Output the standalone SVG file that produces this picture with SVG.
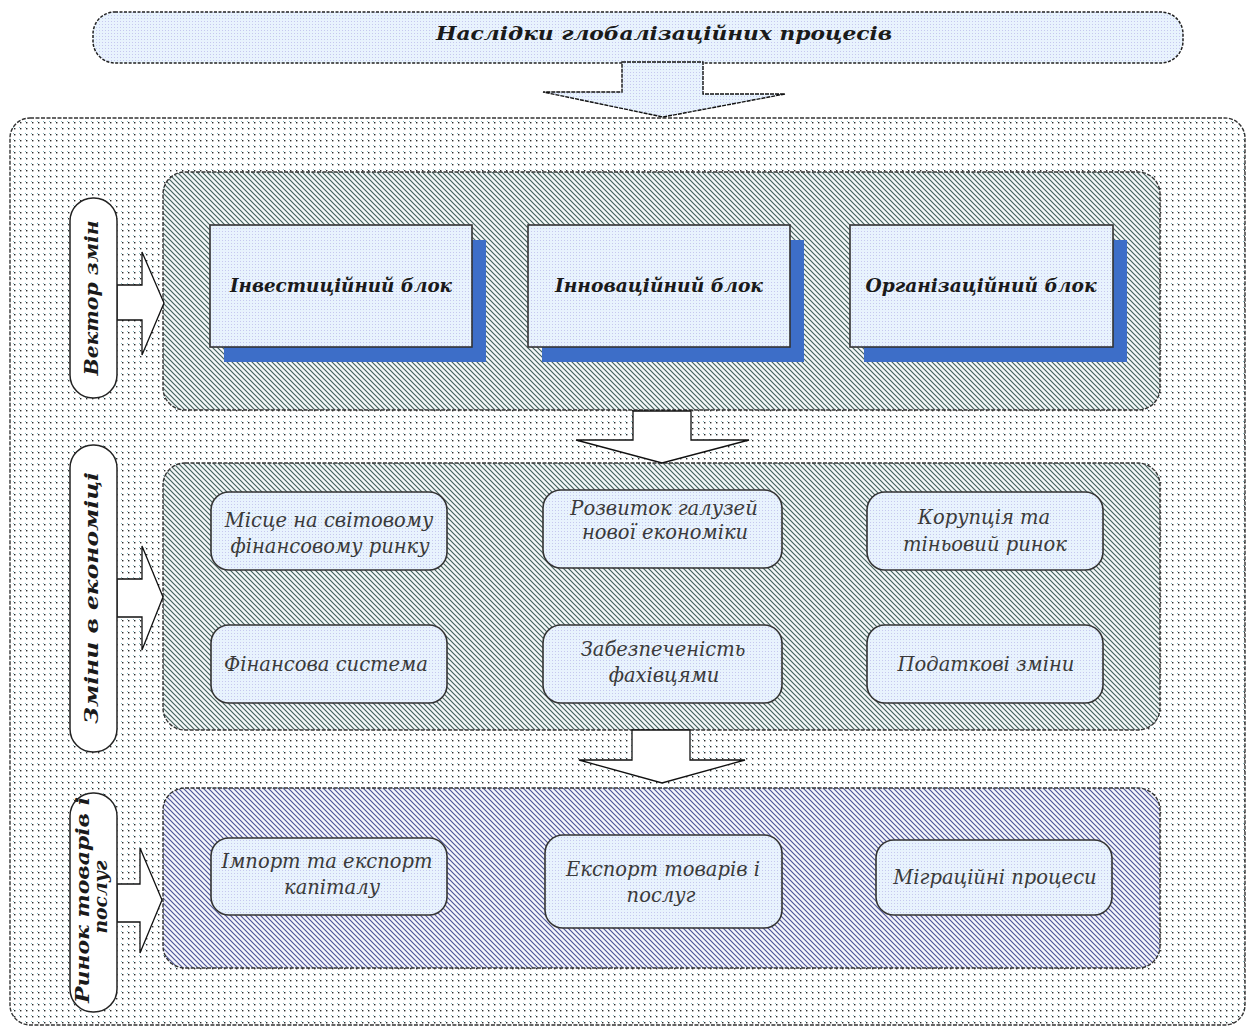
<svg xmlns="http://www.w3.org/2000/svg" width="1249" height="1030" viewBox="0 0 1249 1030">
<style>
.t{font-family:"DejaVu Serif","Liberation Serif",serif;font-style:italic;fill:#3a3a3a;font-size:19.5px;text-anchor:middle}
.b{font-family:"DejaVu Serif","Liberation Serif",serif;font-style:italic;font-weight:bold;fill:#1a1a1a;font-size:18px;text-anchor:middle}
.box{fill:url(#lite);stroke:#333;stroke-width:1.6}
.panel{stroke:#333;stroke-width:1.4;stroke-dasharray:4 1.5}
.lab{fill:#fff;stroke:#222;stroke-width:1.5}
.arr{fill:#fff;stroke:#111;stroke-width:1.3;stroke-linejoin:miter}
.sh{fill:#3d6ec8}
</style>
<defs>
<pattern id="dots" width="6" height="6" patternUnits="userSpaceOnUse">
<rect width="6" height="6" fill="#fff"/>
<rect x="1" y="1" width="1" height="1" fill="#86b8c0"/>
<rect x="2" y="2" width="1.4" height="1.4" fill="#2a2a2a"/>
</pattern>
<pattern id="hatchG" width="5" height="5" patternUnits="userSpaceOnUse">
<rect width="5" height="5" fill="#f4f8f8"/>
<path d="M-1,-1 L6,6 M-1,4 L1,6 M4,-1 L6,1" stroke="#44625f" stroke-width="1.2"/>
</pattern>
<pattern id="hatchB" width="5" height="5" patternUnits="userSpaceOnUse">
<rect width="5" height="5" fill="#f5f5fc"/>
<path d="M-1,-1 L6,6 M-1,4 L1,6 M4,-1 L6,1" stroke="#4f5799" stroke-width="1.2"/>
</pattern>
<pattern id="lite" width="3" height="3" patternUnits="userSpaceOnUse">
<rect width="3" height="3" fill="#e8f3fd"/>
<rect x="0" y="0" width="1" height="1" fill="#c6c8ef"/>
</pattern>
</defs>

<g id="outer-panel">
<rect class="panel" x="10" y="118" width="1235" height="907" rx="20" fill="url(#dots)"/>
</g>

<g id="title">
<rect x="93" y="12" width="1090" height="51" rx="22" fill="url(#lite)" stroke="#222" stroke-width="1.5" stroke-dasharray="3 1.5"/>
<text class="b" x="664" y="40" font-size="20" textLength="456" lengthAdjust="spacingAndGlyphs">Наслідки глобалізаційних процесів</text>
</g>

<g id="panel-vector">
<rect class="panel" x="163" y="172" width="997" height="238" rx="22" fill="url(#hatchG)"/>
</g>
<g id="panel-economy">
<rect class="panel" x="163" y="463" width="997" height="267" rx="22" fill="url(#hatchG)"/>
</g>
<g id="panel-market">
<rect class="panel" x="163" y="788" width="997" height="180" rx="22" fill="url(#hatchB)"/>
</g>

<g id="connectors">
<polygon points="622,62 703,62 703,94 785,94 663,117 543,92 622,92" fill="url(#lite)" stroke="#111" stroke-width="1.4" stroke-dasharray="4 1"/>
<polygon class="arr" points="633,411 691,411 691,440 749,440 662,463 576,440 633,440"/>
<polygon class="arr" points="632,730 690,730 690,760 745,760 662,783 579,760 632,760"/>
<polygon class="arr" points="117,285 142,285 142,252 164,303 142,355 142,320 117,320"/>
<polygon class="arr" points="117,579 142,579 142,546 163,597 142,650 142,617 117,617"/>
<polygon class="arr" points="117,884 140,884 140,848 162,900 140,953 140,922 117,922"/>
</g>

<g id="label-vector">
<rect class="lab" x="70" y="198" width="47" height="200" rx="23"/>
<text class="b" transform="translate(98,298) rotate(-90)" textLength="155" lengthAdjust="spacingAndGlyphs">Вектор змін</text>
</g>
<g id="label-economy">
<rect class="lab" x="70" y="445" width="47" height="307" rx="23"/>
<text class="b" transform="translate(98,598) rotate(-90)" textLength="252" lengthAdjust="spacingAndGlyphs">Зміни в економіці</text>
</g>
<g id="label-market">
<rect class="lab" x="70" y="793" width="47" height="219" rx="23"/>
<text class="b" font-size="17" transform="translate(89,900) rotate(-90)" textLength="206" lengthAdjust="spacingAndGlyphs">Ринок товарів і</text>
<text class="b" font-size="17" transform="translate(107,897) rotate(-90)" textLength="73" lengthAdjust="spacingAndGlyphs">послуг</text>
</g>

<g id="block-invest">
<rect class="sh" x="224" y="240" width="262" height="122"/>
<rect class="box" x="210" y="225" width="262" height="122" stroke="#111"/>
<text class="b" x="341" y="292" textLength="222" lengthAdjust="spacingAndGlyphs">Інвестиційний блок</text>
</g>
<g id="block-innov">
<rect class="sh" x="542" y="240" width="262" height="122"/>
<rect class="box" x="528" y="225" width="262" height="122" stroke="#111"/>
<text class="b" x="659" y="292" textLength="208" lengthAdjust="spacingAndGlyphs">Інноваційний блок</text>
</g>
<g id="block-org">
<rect class="sh" x="864" y="240" width="263" height="122"/>
<rect class="box" x="850" y="225" width="263" height="122" stroke="#111"/>
<text class="b" x="981" y="292" textLength="231" lengthAdjust="spacingAndGlyphs">Організаційний блок</text>
</g>

<g id="node-world-fin">
<rect class="box" x="211" y="492" width="236" height="78" rx="18"/>
<text class="t" x="329" y="527">Місце на світовому</text>
<text class="t" x="330" y="553">фінансовому ринку</text>
</g>
<g id="node-new-econ">
<rect class="box" x="543" y="490" width="239" height="78" rx="18"/>
<text class="t" x="664" y="515">Розвиток галузей</text>
<text class="t" x="665" y="539">нової економіки</text>
</g>
<g id="node-corruption">
<rect class="box" x="867" y="492" width="236" height="78" rx="18"/>
<text class="t" x="984" y="524">Корупція та</text>
<text class="t" x="985" y="551">тіньовий ринок</text>
</g>
<g id="node-fin-system">
<rect class="box" x="211" y="625" width="236" height="78" rx="18"/>
<text class="t" x="326" y="671">Фінансова система</text>
</g>
<g id="node-specialists">
<rect class="box" x="543" y="625" width="239" height="78" rx="18"/>
<text class="t" x="663" y="656">Забезпеченість</text>
<text class="t" x="664" y="682">фахівцями</text>
</g>
<g id="node-tax">
<rect class="box" x="867" y="625" width="236" height="78" rx="18"/>
<text class="t" x="986" y="671">Податкові зміни</text>
</g>

<g id="node-capital">
<rect class="box" x="211" y="838" width="236" height="77" rx="18"/>
<text class="t" x="327" y="868">Імпорт та експорт</text>
<text class="t" x="332" y="894">капіталу</text>
</g>
<g id="node-export">
<rect class="box" x="545" y="835" width="237" height="93" rx="18"/>
<text class="t" x="663" y="876">Експорт товарів і</text>
<text class="t" x="661" y="902">послуг</text>
</g>
<g id="node-migration">
<rect class="box" x="876" y="840" width="236" height="75" rx="18"/>
<text class="t" x="995" y="884">Міграційні процеси</text>
</g>
</svg>
